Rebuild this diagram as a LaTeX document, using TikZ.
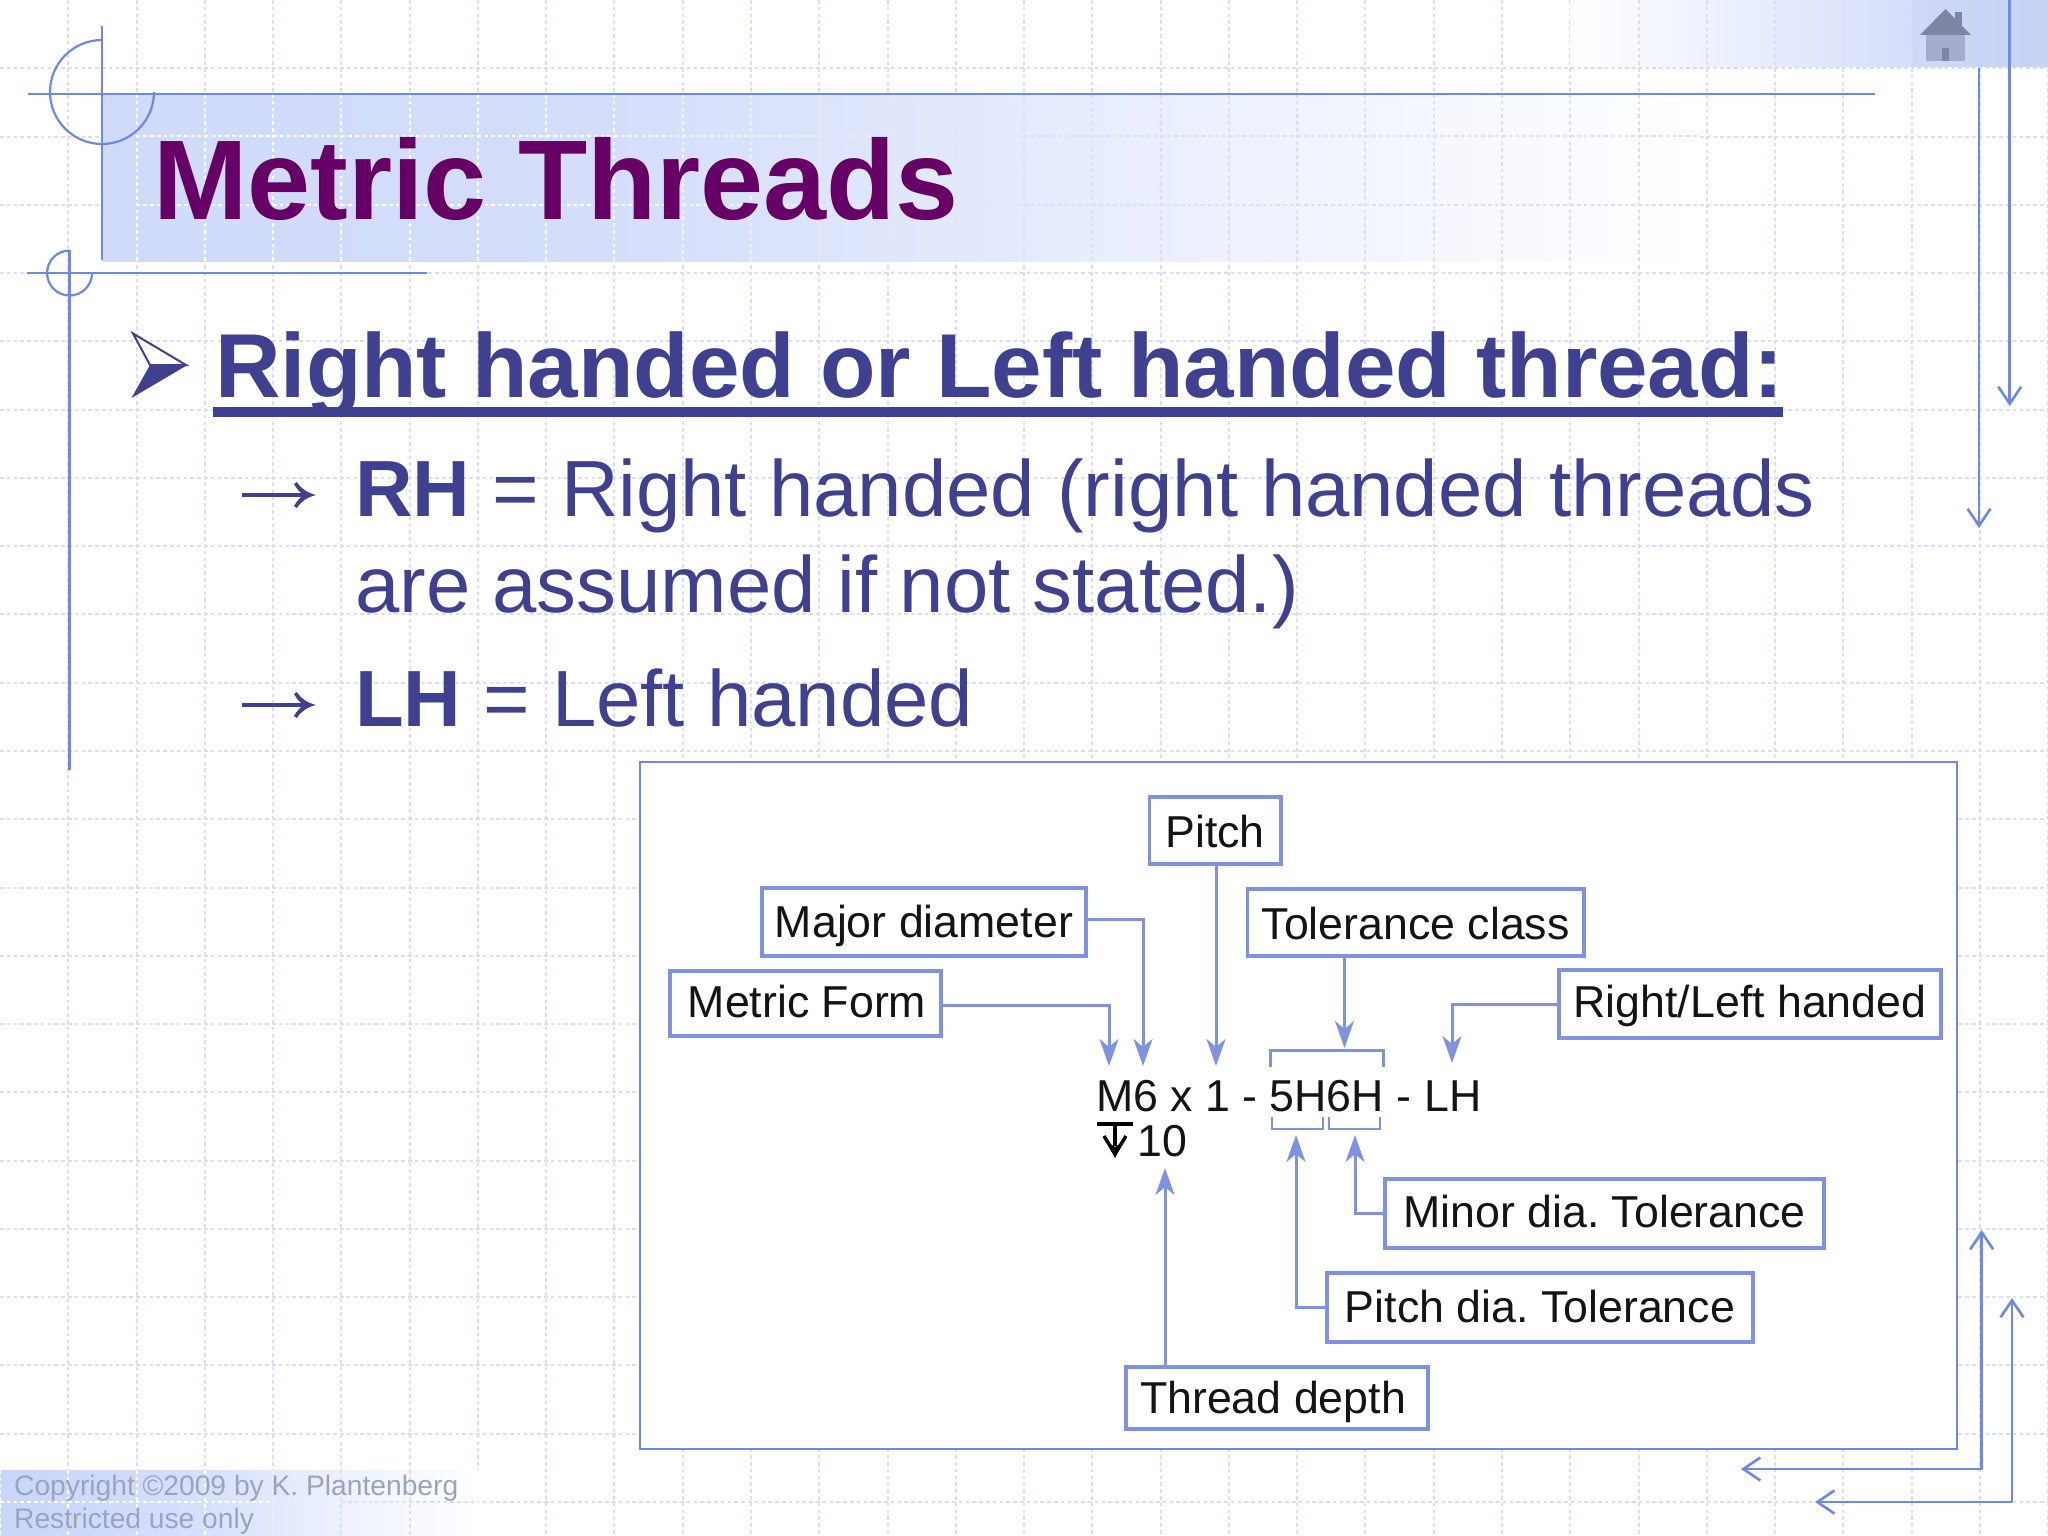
\documentclass[tikz,border=0pt]{standalone}
\usepackage{fontspec}
\setmainfont{Liberation Sans}
\usetikzlibrary{arrows.meta}
\definecolor{gridc}{HTML}{DADDF9}
\definecolor{decor}{HTML}{6E88EA}
\definecolor{boxc}{HTML}{7F92E2}
\definecolor{ink}{HTML}{404090}
\definecolor{titlec}{HTML}{660066}
\definecolor{foot}{HTML}{9BA3C2}
\definecolor{homeroof}{HTML}{7C86A3}
\definecolor{homewall}{HTML}{A3ADCB}
\definecolor{bA}{HTML}{D0DBFA}
\definecolor{bB}{HTML}{D4DEFA}
\definecolor{bC}{HTML}{E0E7FC}
\definecolor{bD}{HTML}{F0F3FE}
\definecolor{bW}{HTML}{FFFFFF}
\definecolor{fA}{HTML}{CAD6F8}
\definecolor{fB}{HTML}{D5DFFA}
\definecolor{tB}{HTML}{E8EDFD}
\definecolor{tC}{HTML}{D6DEFA}
\definecolor{tD}{HTML}{CBD7F8}
\pgfdeclarehorizontalshading{titleband}{100bp}{
  color(0bp)=(bA); color(25bp)=(bA); color(41bp)=(bB); color(50bp)=(bC);
  color(62bp)=(bD); color(75bp)=(bW); color(100bp)=(bW)}
\pgfdeclarehorizontalshading{footband}{100bp}{
  color(0bp)=(fA); color(25bp)=(fA); color(45bp)=(fB);
  color(62bp)=(bD); color(75bp)=(bW); color(100bp)=(bW)}
\pgfdeclarehorizontalshading{topband}{100bp}{
  color(0bp)=(bW); color(25bp)=(bW); color(45bp)=(tB);
  color(60bp)=(tC); color(75bp)=(tD); color(100bp)=(tD)}
\tikzset{
  gridline/.style={line width=2pt,dash pattern=on 3.6pt off 3.2pt},
  decorline/.style={draw=decor,line width=2.6pt},
  barb/.style={decorline,-{Straight Barb[length=17pt,width=23pt,line width=2.6pt]}},
  thindecor/.style={draw=decor,line width=2.2pt},
  tag/.style={draw=boxc,line width=3.4pt,fill=white,inner sep=0pt,text=black!92,
    font=\fontsize{44.7}{44.7}\selectfont,text depth=1pt},
  link/.style={draw=boxc,line width=3pt},
  thinlink/.style={draw=boxc,line width=2.5pt},
  pointer/.style={link,-{Stealth[length=27pt,width=19pt,inset=8pt]}},
  plain/.style={inner sep=0pt,anchor=base west},
  body/.style={plain,text=ink,font=\fontsize{79.7}{79.7}\selectfont},
  code/.style={plain,text=black!92,font=\fontsize{44.7}{44.7}\selectfont},
  foottext/.style={plain,text=foot,font=\fontsize{28.2}{28.2}\selectfont},
  bullet arrow/.pic={
    \draw[ink,line width=4pt] (0,0) -- (68,0);
    \fill[ink] (55,-13) .. controls (59,-6) and (66,-2) .. (74,0)
      .. controls (66,2) and (59,6) .. (55,13)
      -- (52,11) .. controls (55,6) and (58,2) .. (62,0)
      .. controls (58,-2) and (55,-6) .. (52,-11) -- cycle;
  },
}
\begin{document}
\frenchspacing
\begin{tikzpicture}[x=1pt,y=-1pt]
\useasboundingbox (0,0) rectangle (2048,1536);
\fill[white] (0,0) rectangle (2048,1536);
% grid
\foreach \k in {1,...,30}{
  \draw[gridline,gridc] ({68.27*\k},0) -- ({68.27*\k},1536);
}
\foreach \k in {1,...,22}{
  \draw[gridline,gridc] (0,{68.27*\k}) -- (2048,{68.27*\k});
}
% bands
\shade[shading=titleband] (102,94) rectangle (1700,261);
\shade[shading=footband] (0,1470) rectangle (480,1536);
\shade[shading=topband] (1570,0) rectangle (2048,67);
\fill[black!30!decor,opacity=.04] (1911,0) rectangle (2048,67);
% grid over bands
\begin{scope}
\clip (102,94) rectangle (1700,261);
\foreach \k in {2,...,24}{
  \pgfmathtruncatemacro{\p}{max(0,min(100,(1050-68.27*\k)/5.5))}
  \draw[gridline,white!\p!gridc] ({68.27*\k},94) -- ({68.27*\k},261);
  \draw[gridline,white!\p!gridc] ({68.27*\k},136.5) -- ({68.27*(\k+1)},136.5);
  \draw[gridline,white!\p!gridc] ({68.27*\k},204.8) -- ({68.27*(\k+1)},204.8);
}
\end{scope}
\begin{scope}
\clip (0,1470) rectangle (480,1536);
\foreach \k in {0,...,6}{
  \pgfmathtruncatemacro{\p}{max(0,min(100,(350-68.27*\k)/1.4))}
  \draw[gridline,white!\p!gridc] ({68.27*\k},1470) -- ({68.27*\k},1536);
  \draw[gridline,white!\p!gridc] ({68.27*\k},1502) -- ({68.27*(\k+1)},1502);
}
\end{scope}
\begin{scope}
\clip (1570,0) rectangle (2048,68);
\foreach \k in {24,...,28}{
  \draw[gridline,gridc] ({68.27*\k},0) -- ({68.27*\k},68);
}
\draw[gridline,gridc] (1570,68) -- (2048,68);
\end{scope}
% decoration lines
\draw[decorline] (28,94) -- (1875,94);
\draw[decorline] (102,26) -- (102,260);
\draw[thindecor] (102,40) arc[start angle=-90,end angle=-360,radius=52];
\draw[decorline] (27,273) -- (427,273);
\draw[decorline] (69.6,250) -- (69.6,770);
\draw[thindecor] (69.6,250.5) arc[start angle=-90,end angle=-360,radius=22.5];
% right arrows
\coordinate (a1s) at (2009.7,0); \coordinate (a1e) at (2009.7,406);
\coordinate (a2s) at (1979,68);  \coordinate (a2e) at (1979,528);
\draw[barb] (a1s) -- (a1e);
\draw[barb] (a2s) -- (a2e);
\coordinate (b1c) at (1981.7,1469); \coordinate (b1u) at (1981.7,1230); \coordinate (b1l) at (1741,1469);
\coordinate (b2c) at (2012,1502);   \coordinate (b2u) at (2012,1298);   \coordinate (b2l) at (1815,1502);
\draw[barb] (b1c) -- (b1u);
\draw[barb] (b1c) -- (b1l);
\draw[barb] (b2c) -- (b2u);
\draw[barb] (b2c) -- (b2l);
% home icon
\fill[homewall] (1926,35) rectangle (1965,61);
\fill[homeroof] (1955,12) rectangle (1962,26);
\fill[homeroof] (1920,35) -- (1945.5,9) -- (1971,35) -- cycle;
\fill[homeroof] (1942,48) rectangle (1948.6,61);
% title
\node[plain,text=titlec,font=\fontsize{113.3}{113.3}\selectfont\bfseries] (title) at (153,219) {Metric Threads};
% heading
\filldraw[draw=ink,fill=white,line width=2pt] (133,333.5) -- (186,365) -- (150,365) -- cycle;
\fill[ink] (150,365) -- (187.5,365) -- (131.5,398) -- cycle;
\node[body,font=\fontsize{90.8}{90.8}\selectfont\bfseries] (head) at (215,397) {Right handed or Left handed thread:};
\coordinate (ulL) at (213,412); \coordinate (ulR) at (1783,412);
\draw[ink,line width=9.5pt] (ulL) -- (ulR);
% body
\pic at (242,495) {bullet arrow};
\node[body] (l1) at (355,516) {\textbf{RH} = Right handed (right handed threads};
\node[body] (l2) at (355,612) {are assumed if not stated.)};
\pic at (242,705) {bullet arrow};
\node[body] (l3) at (355,726) {\textbf{LH} = Left handed};
% picture box
\node[draw=decor,line width=2.4pt,fill=white,inner sep=0pt,anchor=north west,minimum width=1316.5pt,minimum height=687pt] (pic) at (639,760.5) {};
% labelled boxes
\node[tag,text height=34pt,minimum width=131.6pt,minimum height=67pt] (pitch) at (1215,830.5) {Pitch};
\node[tag,text height=31pt,minimum width=324pt,minimum height=68pt] (major) at (924,922) {Major diameter};
\node[tag,text height=28pt,minimum width=271pt,minimum height=65pt] (metric) at (805.5,1003.5) {\hspace{3pt}Metric Form};
\node[tag,text height=34pt,minimum width=336.5pt,minimum height=67pt] (tol) at (1415.7,922.5) {Tolerance class};
\node[tag,text height=27pt,minimum width=382pt,minimum height=68pt] (rl) at (1750,1004) {Right/Left handed};
\node[tag,text height=28pt,minimum width=439pt,minimum height=69pt] (minor) at (1604.5,1213.5) {Minor dia. Tolerance};
\node[tag,text height=30pt,minimum width=426pt,minimum height=69pt] (pdia) at (1540,1307.5) {Pitch dia. Tolerance};
\node[tag,text height=31pt,minimum width=302pt,minimum height=62pt] (depth) at (1277,1398) {Thread depth\rule{8pt}{0pt}};
% callout text
\node[code] (cM) at (1096,1111) {M6 x 1};
\node[code] (cD1) at (1242,1111) {-};
\node[code] (cT) at (1269,1111) {5H6H};
\node[code] (cD2) at (1396,1111) {-};
\node[code] (cL) at (1424,1111) {LH};
\node[code] (c10) at (1137,1156) {10};
% depth symbol
\draw[black,line width=4pt] (1097,1124) -- (1133,1124);
\draw[black,line width=3.6pt] (1115,1124) -- (1115,1146);
\draw[black,line width=3.4pt] (1104,1136) -- (1115,1154) -- (1126,1136);
\fill[black] (1115,1158) -- (1106,1141) -- (1115,1147) -- (1124,1141) -- cycle;
% brackets
\coordinate (brA) at (1270.7,1067); \coordinate (brB) at (1270.7,1050);
\coordinate (brC) at (1383,1050);   \coordinate (brD) at (1383,1067);
\draw[link] (brA) -- (brB) -- (brC) -- (brD);
\coordinate (lA) at (1272,1117); \coordinate (lB) at (1272,1129);
\coordinate (lC) at (1323,1129); \coordinate (lD) at (1323,1117);
\draw[thinlink] (lA) -- (lB) -- (lC) -- (lD);
\coordinate (mA) at (1329,1117); \coordinate (mB) at (1329,1129);
\coordinate (mC) at (1380,1129); \coordinate (mD) at (1380,1117);
\draw[thinlink] (mA) -- (mB) -- (mC) -- (mD);
% connectors
\coordinate (majE) at (1143,919); \coordinate (majT) at (1143,1066);
\draw[pointer] (major.east |- majE) -- (majE) -- (majT);
\coordinate (metE) at (1109,1005); \coordinate (metT) at (1109,1066);
\draw[pointer] (metric.east |- metE) -- (metE) -- (metT);
\coordinate (pitT) at (1216,1066);
\draw[pointer] (pitch.south -| pitT) -- (pitT);
\coordinate (tolT) at (1344.5,1048);
\draw[pointer] (tol.south -| tolT) -- (tolT);
\coordinate (rlE) at (1452,1004); \coordinate (rlT) at (1452,1063);
\draw[pointer] (rl.west |- rlE) -- (rlE) -- (rlT);
\coordinate (minE) at (1355,1213); \coordinate (minT) at (1355,1135);
\draw[pointer] (minor.west |- minE) -- (minE) -- (minT);
\coordinate (pdE) at (1296,1307); \coordinate (pdT) at (1296,1135);
\draw[pointer] (pdia.west |- pdE) -- (pdE) -- (pdT);
\coordinate (depT) at (1165,1168);
\draw[pointer] (depth.north -| depT) -- (depT);
% footer
\node[foottext] (f1) at (14,1495) {Copyright ©2009 by K. Plantenberg};
\node[foottext] (f2) at (14,1528) {Restricted use only};
\end{tikzpicture}
\end{document}
